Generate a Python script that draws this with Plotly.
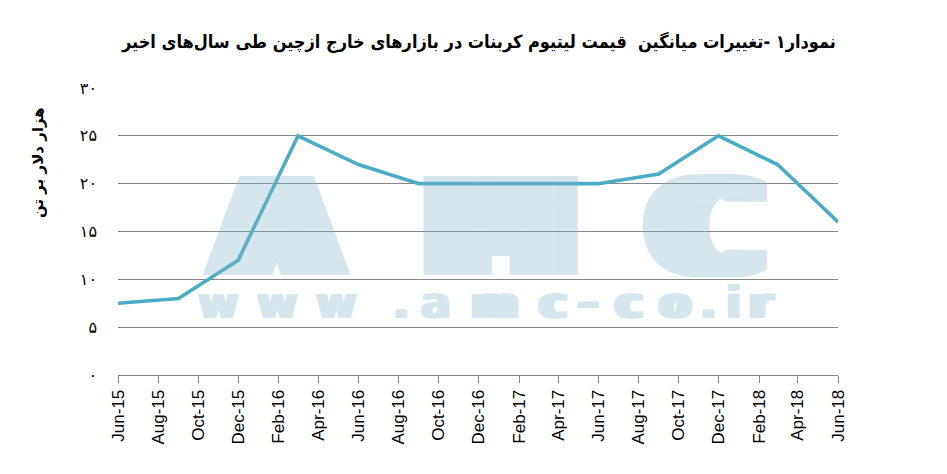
import plotly.graph_objects as go

# ---------------- data ----------------
dates = ["2015-06-01", "2015-09-01", "2015-12-01", "2016-03-01", "2016-06-01",
         "2016-09-01", "2016-12-01", "2017-03-01", "2017-06-01", "2017-09-01",
         "2017-12-01", "2018-03-01", "2018-06-01"]
prices = [7.5, 8.0, 12, 25, 22, 20, 20, 20, 20, 21, 25, 22, 16]

y_tickvals = [0, 5, 10, 15, 20, 25, 30]
y_ticktext = ["۰", "۵", "۱۰", "۱۵", "۲۰", "۲۵", "۳۰"]

title_text = "نمودار۱ -تغییرات میانگین  قیمت لیتیوم کربنات در بازارهای خارج ازچین طی سال‌های اخیر"
y_title_text = "هزار دلار بر تن"

# ---------------- layout constants ----------------
W, H = 947, 474
PAGE_OFF = 8          # default body margin of the html page
L, R, T, B = 118, 838, 88, 375   # plot area in page pixels

def px(xp):
    return (xp - L) / (R - L)

def py(yp):
    return (B - yp) / (B - T)

WM_COLOR = "rgb(130,180,200)"
WM_OPACITY = 0.33

def smear(extra, step=2):
    half = extra / 2.0
    offs = []
    k = step
    while k <= half:
        offs += [k, -k]
        k += step
    if not offs:
        return "none"
    return ", ".join(f"{o}px 0px 0px {WM_COLOR}" for o in offs)

fig = go.Figure()

fig.add_trace(go.Scatter(
    x=dates, y=prices, mode="lines",
    line=dict(color="rgb(75,172,198)", width=3.6),
    hoverinfo="skip", showlegend=False,
))

annotations = []

# watermark big letters
for ch, cx, extra in [("A", 276, 44), ("M", 500, 44), ("C", 706, 40)]:
    annotations.append(dict(
        text=ch, x=px(cx), y=py(228), xref="paper", yref="paper",
        xanchor="center", yanchor="middle", showarrow=False,
        font=dict(family="DejaVu Sans", size=136, color=WM_COLOR,
                  weight="bold", shadow=smear(extra, 2)),
        opacity=WM_OPACITY,
    ))

# watermark url
url_chars = [("w", 218, 6), ("w", 277, 6), ("w", 336, 6), (".", 401, 4),
             ("a", 436, 6), ("m", 495, 10), ("c", 553, 10), ("-", 588, 8),
             ("c", 629, 10), ("o", 675, 8), (".", 708, 4), ("i", 733, 4),
             ("r", 761, 8)]
for ch, cx, extra in url_chars:
    annotations.append(dict(
        text=ch, x=px(cx), y=py(302), xref="paper", yref="paper",
        xanchor="center", yanchor="middle", showarrow=False,
        font=dict(family="DejaVu Sans", size=44, color=WM_COLOR,
                  weight="bold", shadow=smear(extra, 2)),
        opacity=WM_OPACITY,
    ))

# title
annotations.append(dict(
    text=f"<b>{title_text}</b>", x=px(478), y=py(42), xref="paper", yref="paper",
    xanchor="center", yanchor="middle", showarrow=False,
    font=dict(family="DejaVu Sans Condensed, DejaVu Sans", size=18, color="black"),
))

# y-axis title
annotations.append(dict(
    text=f"<b>{y_title_text}</b>", x=px(38), y=py(163), xref="paper", yref="paper",
    xanchor="center", yanchor="middle", showarrow=False, textangle=-90,
    font=dict(family="DejaVu Sans", size=15, color="black"),
))

fig.update_layout(
    width=W, height=H,
    margin=dict(l=L - PAGE_OFF, r=W - R + PAGE_OFF, t=T - PAGE_OFF,
                b=H - B + PAGE_OFF, pad=0),
    paper_bgcolor="white", plot_bgcolor="white",
    showlegend=False,
    annotations=annotations,
    xaxis=dict(
        type="date",
        range=["2015-06-01", "2018-06-01"],
        tick0="2015-06-01", dtick="M2", tickformat="%b-%y",
        tickangle=-90,
        ticks="outside", ticklen=7, tickcolor="#868686", tickwidth=1,
        showline=True, linecolor="#868686", linewidth=1,
        showgrid=False, zeroline=False,
        tickfont=dict(family="Liberation Sans", size=17, color="black"),
    ),
    yaxis=dict(
        range=[0, 30],
        tickvals=y_tickvals, ticktext=y_ticktext,
        showgrid=True, gridcolor="#868686", gridwidth=1,
        zeroline=False, showline=False, ticks="",
        ticklabelstandoff=20,
        tickfont=dict(family="DejaVu Sans", size=16, color="black"),
    ),
)

fig.write_html("out.html")
